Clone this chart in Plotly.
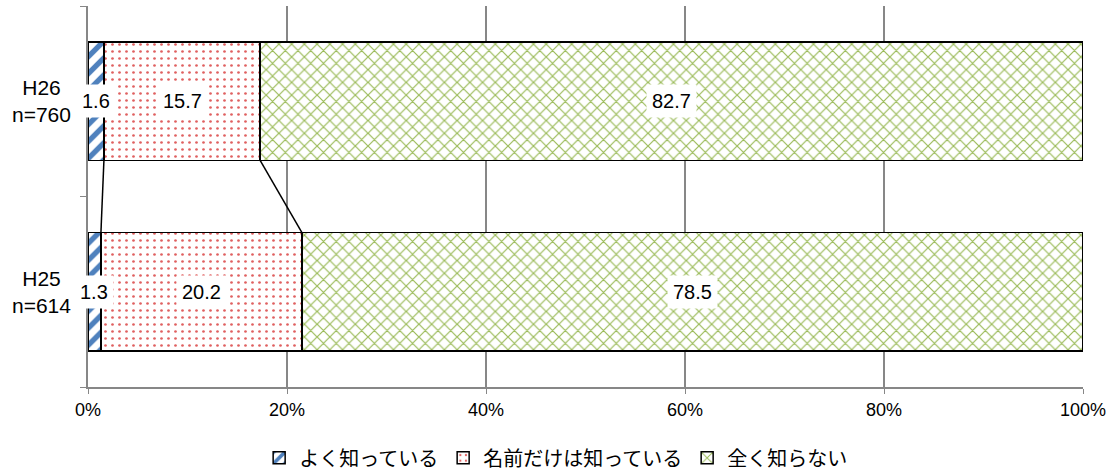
import plotly.graph_objects as go

# Survey responses (%), by year
groups = ["H25<br>n=614", "H26<br>n=760"]
series_names = ["よく知っている", "名前だけは知っている", "全く知らない"]
well_known = [1.3, 1.6]
name_only = [20.2, 15.7]
not_known = [78.5, 82.7]
x_ticks = [0, 20, 40, 60, 80, 100]
x_tick_labels = ["0%", "20%", "40%", "60%", "80%", "100%"]

series_values = [well_known, name_only, not_known]
pattern_styles = [
    dict(shape="/", fgcolor="#4f81bd", bgcolor="white", size=12, solidity=0.45, fillmode="replace"),
    dict(shape=".", fgcolor="#e06060", bgcolor="white", size=7, solidity=0.12, fillmode="replace"),
    dict(shape="x", fgcolor="#9bbb59", bgcolor="white", size=9, solidity=0.25, fillmode="replace"),
]

FONT = "Liberation Sans, Arial, Noto Sans CJK JP, sans-serif"
BARGAP = 0.38
half = (1 - BARGAP) / 2

fig = go.Figure()
for name, vals, pat in zip(series_names, series_values, pattern_styles):
    fig.add_trace(go.Bar(
        y=groups, x=vals, name=name, orientation="h",
        marker=dict(color="white", pattern=pat, line=dict(color="black", width=1.5)),
        hoverinfo="x+name",
    ))

# Value labels on white boxes, centred in each segment
for gi, g in enumerate(groups):
    start = 0.0
    for vals in series_values:
        v = vals[gi]
        fig.add_annotation(
            x=start + v / 2, y=g, text=f"{v:.1f}", showarrow=False,
            bgcolor="white", borderpad=5,
            font=dict(family=FONT, size=20, color="black"),
        )
        start += v

# Category labels, centre-aligned over two lines left of the axis
for g in groups:
    fig.add_annotation(
        x=-0.047, xref="paper", xanchor="center", y=g, yref="y",
        text=g, showarrow=False, align="center",
        font=dict(family=FONT, size=21, color="black"),
    )

# Series connector lines between the two bars
cum_prev = 0.0
cum_curr = 0.0
for vals in series_values[:-1]:
    cum_prev += vals[0]
    cum_curr += vals[1]
    fig.add_shape(
        type="line", xref="x", yref="y",
        x0=cum_curr, y0=1 - half, x1=cum_prev, y1=0 + half,
        line=dict(color="black", width=1.5),
    )

fig.update_layout(
    barmode="stack",
    bargap=BARGAP,
    width=1114, height=472,
    margin=dict(l=88, r=31, t=6, b=85, autoexpand=False),
    paper_bgcolor="white", plot_bgcolor="white",
    font=dict(family=FONT, size=19, color="black"),
    showlegend=True,
    legend=dict(
        orientation="h", x=0.47, xanchor="center", y=-0.186, yanchor="middle",
        font=dict(family=FONT, size=20, color="black"),
        itemwidth=30, traceorder="normal",
    ),
    xaxis=dict(
        range=[0, 100], tickvals=x_ticks, ticktext=x_tick_labels,
        showgrid=True, gridcolor="#878787", gridwidth=1.5,
        showline=True, linecolor="#878787", linewidth=2,
        ticks="outside", ticklen=5, tickcolor="#878787",
        tickfont=dict(family=FONT, size=18, color="black"),
        zeroline=False,
    ),
    yaxis=dict(
        showline=True, linecolor="#878787", linewidth=2,
        ticks="outside", ticklen=6, tickcolor="#878787", tickson="boundaries",
        showticklabels=False,
        showgrid=False, zeroline=False,
    ),
)

fig.write_html("out.html")
